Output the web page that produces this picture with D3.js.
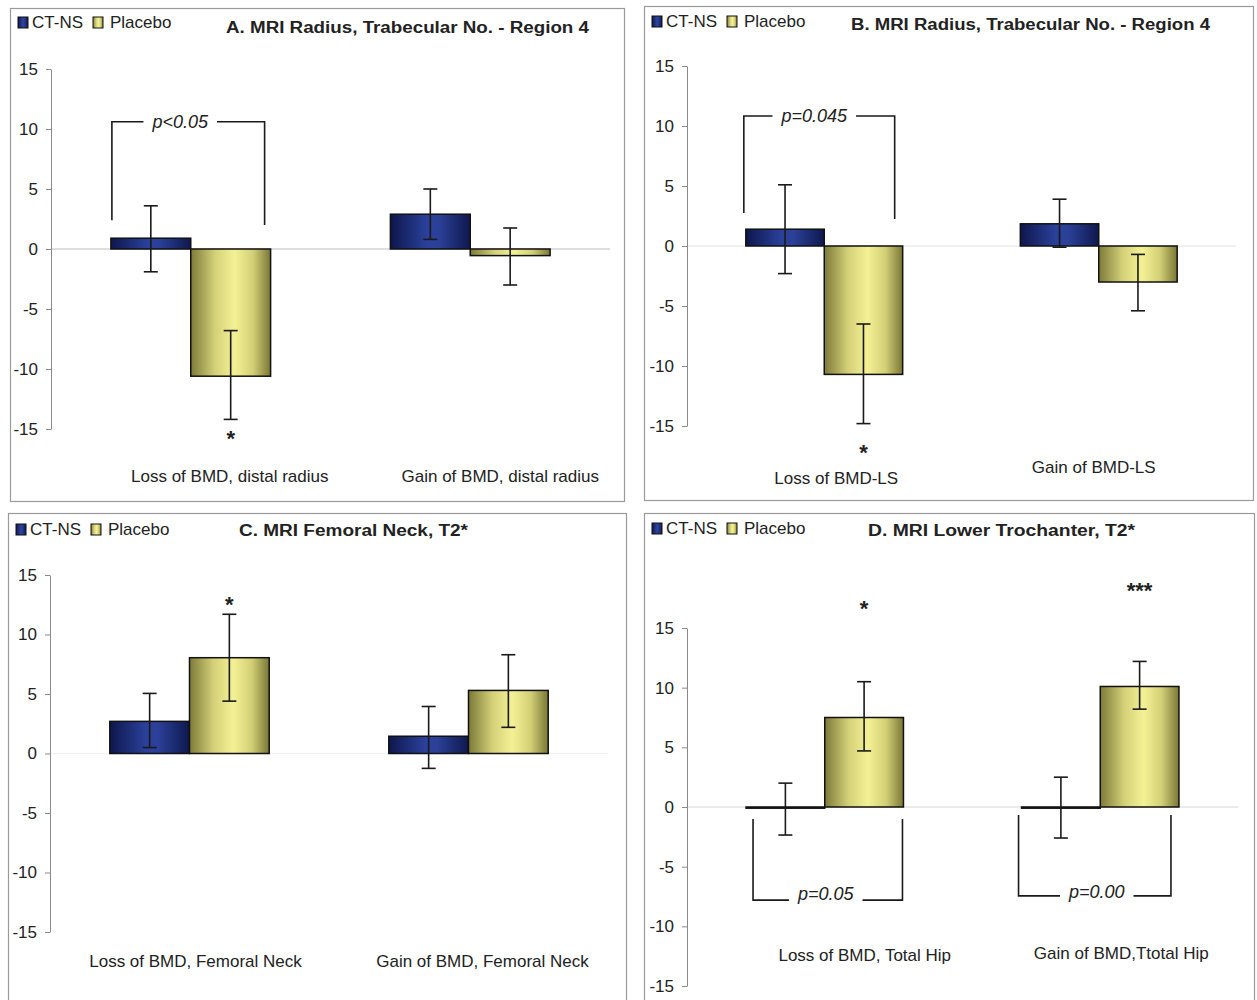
<!DOCTYPE html>
<html>
<head>
<meta charset="utf-8">
<script src="https://cdn.jsdelivr.net/npm/d3@7"></script>
<style>
  body { margin: 0; background: #fff; }
  svg { display: block; font-family: Arial, 'Liberation Sans', sans-serif; }
</style>
</head>
<body>
<svg id="chart" width="1257" height="1000"></svg>
<script>
const seriesNames = ['CT-NS', 'Placebo'];
const yTicks = [15, 10, 5, 0, -5, -10, -15];

// panel A
const titleA = 'A. MRI Radius, Trabecular No. - Region 4';
const catsA = ['Loss of BMD, distal radius', 'Gain of BMD, distal radius'];
const ctnsA = [0.9, 2.9];
const placeboA = [-10.6, -0.55];
const ctnsErrA = [[-1.9, 3.6], [0.8, 5.0]];
const placeboErrA = [[-14.2, -6.8], [-3.0, 1.75]];

// panel B
const titleB = 'B. MRI Radius, Trabecular No. - Region 4';
const catsB = ['Loss of BMD-LS', 'Gain of BMD-LS'];
const ctnsB = [1.4, 1.85];
const placeboB = [-10.7, -3.0];
const ctnsErrB = [[-2.3, 5.1], [-0.1, 3.9]];
const placeboErrB = [[-14.8, -6.5], [-5.4, -0.7]];

// panel C
const titleC = 'C. MRI Femoral Neck, T2*';
const catsC = ['Loss of BMD, Femoral Neck', 'Gain of BMD, Femoral Neck'];
const ctnsC = [2.7, 1.45];
const placeboC = [8.05, 5.3];
const ctnsErrC = [[0.5, 5.05], [-1.25, 3.95]];
const placeboErrC = [[4.4, 11.7], [2.2, 8.3]];

// panel D
const titleD = 'D. MRI Lower Trochanter, T2*';
const catsD = ['Loss of BMD, Total Hip', 'Gain of BMD,Ttotal Hip'];
const ctnsD = [-0.1, -0.1];
const placeboD = [7.5, 10.1];
const ctnsErrD = [[-2.35, 2.0], [-2.6, 2.5]];
const placeboErrD = [[4.7, 10.5], [8.2, 12.2]];

// significance marks (value = where the mark sits on the y scale)
const starsA = [{ cat: 0, text: '*', value: -15.3 }];
const starsB = [{ cat: 0, text: '*', value: -16.75 }];
const starsC = [{ cat: 0, text: '*', value: 13.0 }];
const starsD = [{ cat: 0, text: '*', value: 17.15 }, { cat: 1, text: '***', value: 18.6 }];

const bracketsA = [{ cat: 0, text: 'p<0.05', level: 10.6, legL: 2.4, legR: 2.0 }];
const bracketsB = [{ cat: 0, text: 'p=0.045', level: 10.83, legL: 2.75, legR: 2.25 }];
const bracketsD = [
  { cat: 0, text: 'p=0.05', level: -7.8, legL: -1.0, legR: -1.0 },
  { cat: 1, text: 'p=0.00', level: -7.45, legL: -0.67, legR: -0.67 }
];

const panels = [
  { title: titleA, cats: catsA, ctns: ctnsA, placebo: placeboA, ctnsErr: ctnsErrA, placeboErr: placeboErrA,
    stars: starsA, brackets: bracketsA,
    frame: [10, 8, 614, 493], axisX: 51, right: 610, yTop: 69, yBot: 429,
    titleX: 226, titleW: 363, titleY: 33, legendY: 28, labelDx: [39, 30], labelY: [482, 482],
    zero: '#bdbdbd', brk: [{ dxL: 1, dxR: -6, tdx: -8, dy: 6 }] },
  { title: titleB, cats: catsB, ctns: ctnsB, placebo: placeboB, ctnsErr: ctnsErrB, placeboErr: placeboErrB,
    stars: starsB, brackets: bracketsB,
    frame: [644, 6, 609, 494], axisX: 687, right: 1236, yTop: 66, yBot: 426,
    titleX: 851, titleW: 359, titleY: 30, legendY: 27, labelDx: [12, -5], labelY: [484, 473],
    zero: '#e2e2e2', brk: [{ dxL: -2, dxR: -8, tdx: -5, dy: 6 }] },
  { title: titleC, cats: catsC, ctns: ctnsC, placebo: placeboC, ctnsErr: ctnsErrC, placeboErr: placeboErrC,
    stars: starsC, brackets: [],
    frame: [8, 513, 618, 495], axisX: 50, right: 608, yTop: 575, yBot: 932,
    titleX: 239, titleW: 229, titleY: 536, legendY: 535, labelDx: [6, 14], labelY: [967, 967],
    zero: '#f0f0f0', brk: [] },
  { title: titleD, cats: catsD, ctns: ctnsD, placebo: placeboD, ctnsErr: ctnsErrD, placeboErr: placeboErrD,
    stars: starsD, brackets: bracketsD,
    frame: [644, 513, 610, 495], axisX: 687, right: 1238, yTop: 628, yBot: 986,
    titleX: 868, titleW: 267, titleY: 536, legendY: 534, labelDx: [40, 21], labelY: [961, 959],
    zero: '#d6d6d6', brk: [{ dxL: 7, dxR: -1, tdx: -2, dy: 0 }, { dxL: -3, dxR: -8, tdx: 2, dy: 2 }] }
];

const svg = d3.select('#chart');

// bar gradients, dark edges with a lighter middle
const defs = svg.append('defs');
function gradient(id, stops) {
  const g = defs.append('linearGradient').attr('id', id)
    .attr('x1', '0%').attr('x2', '100%').attr('y1', '0%').attr('y2', '0%');
  stops.forEach(s => g.append('stop').attr('offset', s[0]).attr('stop-color', s[1]));
}
gradient('gBlue', [['0%', '#0e174c'], ['45%', '#2a409a'], ['60%', '#2b4199'], ['100%', '#0f184e']]);
gradient('gYellow', [['0%', '#7c7a38'], ['30%', '#d3d078'], ['55%', '#f4f195'], ['78%', '#d2cf76'], ['100%', '#797736']]);
const fills = { 'CT-NS': 'url(#gBlue)', 'Placebo': 'url(#gYellow)' };

panels.forEach(p => {
  const [fx, fy, fw, fh] = p.frame;
  const g = svg.append('g');

  g.append('rect')
    .attr('x', fx + 0.5).attr('y', fy + 0.5)
    .attr('width', fw).attr('height', fh)
    .attr('fill', '#fff').attr('stroke', '#9a9a9a').attr('stroke-width', 1.2);

  // legend
  const leg = g.append('g').attr('transform', `translate(${fx},${p.legendY})`);
  [[8, 22], [83, 100]].forEach((pos, i) => {
    leg.append('rect')
      .attr('x', pos[0]).attr('y', -11).attr('width', 10).attr('height', 11)
      .attr('fill', fills[seriesNames[i]]).attr('stroke', '#111').attr('stroke-width', 1);
    leg.append('text')
      .attr('x', pos[1]).attr('y', 0)
      .attr('font-size', 17).attr('fill', '#222')
      .text(seriesNames[i]);
  });

  g.append('text')
    .attr('x', p.titleX).attr('y', p.titleY)
    .attr('font-size', 16).attr('font-weight', 'bold').attr('fill', '#222')
    .attr('textLength', p.titleW).attr('lengthAdjust', 'spacingAndGlyphs')
    .text(p.title);

  const y = d3.scaleLinear().domain([-15, 15]).range([p.yBot, p.yTop]);
  const x = d3.scaleBand().domain(p.cats).range([p.axisX, p.right]);
  const bw = x.bandwidth();
  const x1 = d3.scaleBand().domain(seriesNames).range([bw * 0.2143, bw * 0.7857]);

  // zero line
  g.append('line')
    .attr('x1', p.axisX).attr('x2', p.right)
    .attr('y1', y(0)).attr('y2', y(0))
    .attr('stroke', p.zero).attr('stroke-width', 1);

  // plain hyphen for negatives, like the original
  const axis = g.append('g')
    .attr('transform', `translate(${p.axisX},0)`)
    .call(d3.axisLeft(y).tickValues(yTicks).tickFormat(d => String(d))
      .tickSize(5).tickSizeOuter(0).tickPadding(8));
  axis.select('.domain').attr('stroke', '#8a8a8a');
  axis.selectAll('.tick line').attr('stroke', '#8a8a8a');
  axis.selectAll('.tick text')
    .attr('font-size', 17).attr('font-family', 'Arial, Liberation Sans, sans-serif').attr('fill', '#222');

  const rows = p.cats.map((c, i) => ({
    cat: c, i,
    bars: [
      { s: 'CT-NS', v: p.ctns[i], err: p.ctnsErr[i] },
      { s: 'Placebo', v: p.placebo[i], err: p.placeboErr[i] }
    ]
  }));

  const groups = g.selectAll('.grp').data(rows).enter().append('g')
    .attr('class', 'grp')
    .attr('transform', d => `translate(${x(d.cat)},0)`);

  groups.selectAll('rect').data(d => d.bars).enter().append('rect')
    .attr('x', d => x1(d.s))
    .attr('width', x1.bandwidth())
    .attr('y', d => y(Math.max(0, d.v)))
    .attr('height', d => Math.abs(y(d.v) - y(0)))
    .attr('fill', d => fills[d.s])
    .attr('stroke', '#111').attr('stroke-width', 1.5);

  const eb = groups.selectAll('.err').data(d => d.bars).enter().append('g')
    .attr('class', 'err')
    .attr('stroke', '#1a1a1a').attr('stroke-width', 1.6);
  const cx = d => x1(d.s) + x1.bandwidth() / 2;
  eb.append('line')
    .attr('x1', cx).attr('x2', cx)
    .attr('y1', d => y(d.err[0])).attr('y2', d => y(d.err[1]));
  [0, 1].forEach(k => {
    eb.append('line')
      .attr('x1', d => cx(d) - 7).attr('x2', d => cx(d) + 7)
      .attr('y1', d => y(d.err[k])).attr('y2', d => y(d.err[k]));
  });

  // category labels
  g.selectAll('.cat').data(p.cats).enter().append('text')
    .attr('class', 'cat')
    .attr('x', (d, i) => x(d) + bw / 2 + p.labelDx[i])
    .attr('y', (d, i) => p.labelY[i])
    .attr('text-anchor', 'middle')
    .attr('font-size', 17).attr('fill', '#222')
    .text(d => d);

  // asterisks above/below the placebo bar
  g.selectAll('.star').data(p.stars).enter().append('text')
    .attr('class', 'star')
    .attr('x', d => x(p.cats[d.cat]) + x1('Placebo') + x1.bandwidth() / 2)
    .attr('y', d => y(d.value))
    .attr('dy', '0.6em')
    .attr('text-anchor', 'middle')
    .attr('font-size', 22).attr('font-weight', 'bold').attr('fill', '#222')
    .text(d => d.text);

  // p-value brackets
  p.brackets.forEach((b, k) => {
    const o = p.brk[k];
    const left = x(p.cats[b.cat]) + x1('CT-NS') + o.dxL;
    const right = x(p.cats[b.cat]) + x1('Placebo') + x1.bandwidth() + o.dxR;
    const mid = (left + right) / 2 + o.tdx;
    const t = g.append('text')
      .attr('x', mid).attr('y', y(b.level) + o.dy)
      .attr('text-anchor', 'middle')
      .attr('font-size', 18).attr('font-style', 'italic').attr('fill', '#222')
      .text(b.text);
    const half = t.node().getComputedTextLength() / 2 + 9;
    const lv = y(b.level);
    const path = d3.path();
    path.moveTo(left, y(b.legL)); path.lineTo(left, lv); path.lineTo(mid - half, lv);
    path.moveTo(mid + half, lv); path.lineTo(right, lv); path.lineTo(right, y(b.legR));
    g.append('path').attr('d', path.toString())
      .attr('fill', 'none').attr('stroke', '#1a1a1a').attr('stroke-width', 1.6);
  });
});
</script>
</body>
</html>
